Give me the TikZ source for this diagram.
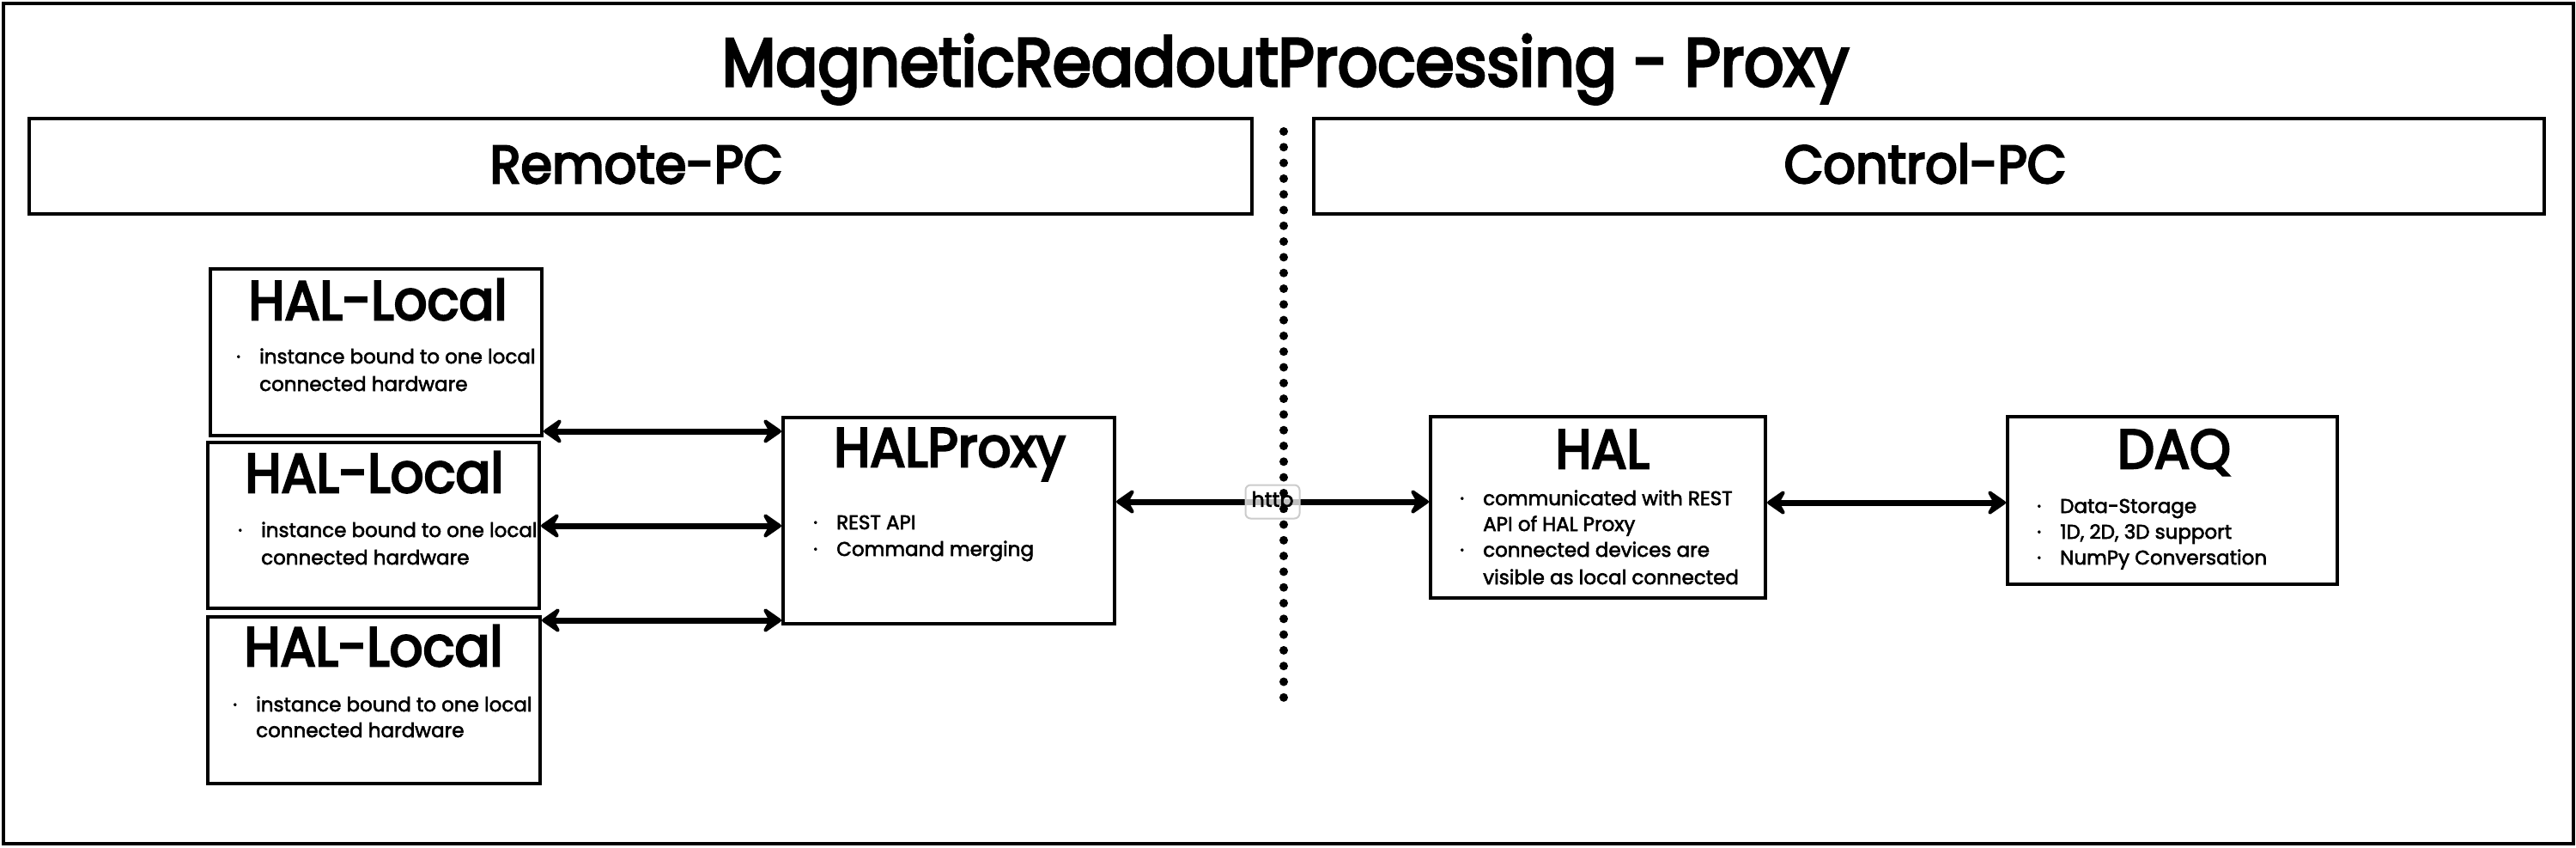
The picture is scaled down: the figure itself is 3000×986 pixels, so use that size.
\documentclass[tikz,border=0pt]{standalone}
\usepackage{fontspec}
\setmainfont{Poppins}[FakeBold=2.5]
\newfontfamily\ttlfont{Poppins}[FakeStretch=0.92, FakeBold=4]
\newfontfamily\hdrfont{Poppins}[FakeStretch=0.95, FakeBold=4]
\usetikzlibrary{arrows.meta}
\newcommand{\bul}{\makebox[0pt][r]{·\hspace{22pt}}}
\begin{document}
\begin{tikzpicture}[x=1pt,y=-1pt,
  box/.style={draw, line width=4pt, rectangle, inner sep=0pt, fill=white},
  ttl/.style={anchor=base, inner sep=0pt, font=\ttlfont\fontsize{79}{90}\selectfont},
  hdr/.style={anchor=base, inner sep=0pt, font=\hdrfont\fontsize{62}{72}\selectfont},
  btitle/.style={anchor=base, inner sep=0pt, font=\hdrfont\fontsize{64}{72}\selectfont},
  item/.style={anchor=base west, inner sep=0pt, font=\fontsize{23}{26}\selectfont},
  tipx/.tip={Stealth[length=26pt,width=36pt,inset=10pt,round]},
  biarrow/.style={line width=7pt, tipx-tipx},
  lbl/.style={draw=black!20, line width=2pt, rounded corners=6pt, fill=white, fill opacity=0.75, text opacity=1, inner sep=0pt, minimum width=63pt, minimum height=39pt, font=\fontsize{24}{28}\selectfont},
  dots/.style={line width=10pt, line cap=round, dash pattern=on 0pt off 18.3pt},
]
\useasboundingbox (0,0) rectangle (3000,986);
\node[box, minimum width=2993pt, minimum height=978pt] (frame) at (1500,493) {};
\node[ttl] (title) at (1497,100) {MagneticReadoutProcessing - Proxy};

\node[box, minimum width=1424pt, minimum height=111pt] (remote) at (746,193.5) {};
\node[hdr] (remotet) at (741,213) {Remote-PC};
\node[box, minimum width=1433pt, minimum height=111pt] (control) at (2246.5,193.5) {};
\node[hdr] (controlt) at (2242,213) {Control-PC};

% HAL-Local boxes
\node[box, minimum width=386pt, minimum height=194pt] (hl1) at (438,410) {};
\node[btitle] (hl1t) at (440,372) {HAL-Local};
\node[item] (hl1a) at (302,423) {\bul instance bound to one local};
\node[item] (hl1b) at (302,455) {connected hardware};

\node[box, minimum width=386pt, minimum height=193pt] (hl2) at (435,611.5) {};
\node[btitle] (hl2t) at (436,573) {HAL-Local};
\node[item] (hl2a) at (304,625) {\bul instance bound to one local};
\node[item] (hl2b) at (304,657) {connected hardware};

\node[box, minimum width=387pt, minimum height=194pt] (hl3) at (435.5,815) {};
\node[btitle] (hl3t) at (435,775) {HAL-Local};
\node[item] (hl3a) at (298,828) {\bul instance bound to one local};
\node[item] (hl3b) at (298,858) {connected hardware};

% HALProxy
\node[box, minimum width=386pt, minimum height=240pt] (hp) at (1105,606) {};
\node[btitle] (hpt) at (1106,543) {HALProxy};
\node[item] (hpa) at (974,616) {\bul REST API};
\node[item] (hpb) at (974,647) {\bul Command merging};

% HAL
\node[box, minimum width=390pt, minimum height=211pt] (hal) at (1861,590.5) {};
\node[btitle] (halt) at (1866,545) {HAL};
\node[item] (hala) at (1727,588) {\bul communicated with REST};
\node[item] (halb) at (1727,618) {API of HAL Proxy};
\node[item] (halc) at (1727,648) {\bul connected devices are};
\node[item] (hald) at (1727,680) {visible as local connected};

% DAQ
\node[box, minimum width=384pt, minimum height=195pt] (daq) at (2530,582.5) {};
\node[btitle] (daqt) at (2532,545) {DAQ};
\node[item] (daqa) at (2399,597) {\bul Data-Storage};
\node[item] (daqb) at (2399,627) {\bul 1D, 2D, 3D support};
\node[item] (daqc) at (2399,657) {\bul NumPy Conversation};

% connectors
\draw[biarrow] (hl1.east |- 0,502) -- (hp.west |- 0,502);
\draw[biarrow] (hl2.east |- 0,612) -- (hp.west |- 0,612);
\draw[biarrow] (hl3.east |- 0,722) -- (hp.west |- 0,722);
\draw[biarrow] (hp.east |- 0,584) -- node[lbl] (http) {http} (hal.west |- 0,584);
\draw[biarrow] (hal.east |- 0,585) -- (daq.west |- 0,585);

% divider
\coordinate (dtop) at (1495,153);
\coordinate (dbot) at (1495,812);
\draw[dots] (dtop) -- (dbot);
\end{tikzpicture}
\end{document}
